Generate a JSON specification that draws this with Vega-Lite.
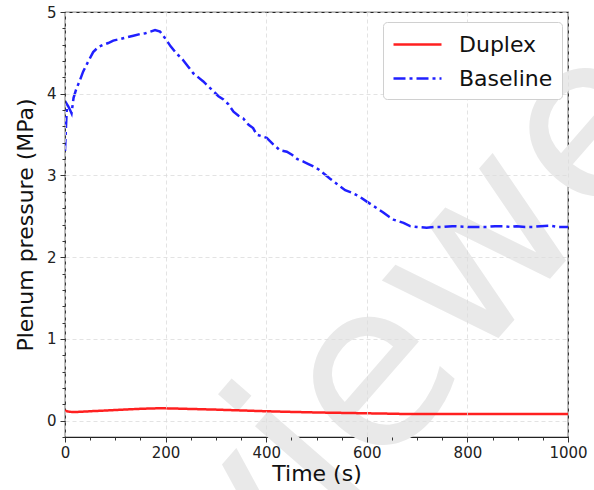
{
  "$schema": "https://vega.github.io/schema/vega-lite/v6.json",
  "width": 503,
  "height": 425,
  "autosize": {"type": "none"},
  "padding": {"left": 65, "top": 12, "right": 26, "bottom": 53},
  "config": {
    "font": "DejaVu Sans",
    "view": {"stroke": "#222222", "strokeWidth": 1.2},
    "axis": {
      "domain": false,
      "labelFont": "DejaVu Sans",
      "titleFont": "DejaVu Sans",
      "labelFontSize": 15,
      "titleFontSize": 22,
      "titleFontWeight": "normal",
      "labelColor": "#222222",
      "titleColor": "#111111",
      "tickColor": "#333333",
      "gridColor": "#dcdcdc",
      "gridDash": [4, 3],
      "gridWidth": 0.8,
      "labelOverlap": false,
      "labelFlush": false
    }
  },
  "datasets": {
    "series": [
      {"series": "Duplex", "t": 0, "v": 0.12},
      {"series": "Duplex", "t": 8, "v": 0.11},
      {"series": "Duplex", "t": 15, "v": 0.105},
      {"series": "Duplex", "t": 30, "v": 0.108},
      {"series": "Duplex", "t": 50, "v": 0.115},
      {"series": "Duplex", "t": 100, "v": 0.13},
      {"series": "Duplex", "t": 150, "v": 0.145},
      {"series": "Duplex", "t": 190, "v": 0.152},
      {"series": "Duplex", "t": 220, "v": 0.148},
      {"series": "Duplex", "t": 250, "v": 0.143},
      {"series": "Duplex", "t": 300, "v": 0.135},
      {"series": "Duplex", "t": 350, "v": 0.125},
      {"series": "Duplex", "t": 400, "v": 0.115},
      {"series": "Duplex", "t": 450, "v": 0.107},
      {"series": "Duplex", "t": 500, "v": 0.1},
      {"series": "Duplex", "t": 550, "v": 0.095},
      {"series": "Duplex", "t": 600, "v": 0.09},
      {"series": "Duplex", "t": 650, "v": 0.085},
      {"series": "Duplex", "t": 680, "v": 0.081},
      {"series": "Duplex", "t": 750, "v": 0.08},
      {"series": "Duplex", "t": 850, "v": 0.08},
      {"series": "Duplex", "t": 1000, "v": 0.08},
      {"series": "Baseline", "t": 0, "v": 3.3},
      {"series": "Baseline", "t": 2, "v": 3.6},
      {"series": "Baseline", "t": 4, "v": 3.87},
      {"series": "Baseline", "t": 7, "v": 3.84},
      {"series": "Baseline", "t": 10, "v": 3.8},
      {"series": "Baseline", "t": 13, "v": 3.76},
      {"series": "Baseline", "t": 17, "v": 3.95},
      {"series": "Baseline", "t": 22, "v": 4.05},
      {"series": "Baseline", "t": 30, "v": 4.17},
      {"series": "Baseline", "t": 36, "v": 4.27},
      {"series": "Baseline", "t": 45, "v": 4.38},
      {"series": "Baseline", "t": 56, "v": 4.51},
      {"series": "Baseline", "t": 66, "v": 4.57},
      {"series": "Baseline", "t": 76, "v": 4.6},
      {"series": "Baseline", "t": 86, "v": 4.62},
      {"series": "Baseline", "t": 96, "v": 4.65},
      {"series": "Baseline", "t": 110, "v": 4.67},
      {"series": "Baseline", "t": 123, "v": 4.69},
      {"series": "Baseline", "t": 136, "v": 4.71},
      {"series": "Baseline", "t": 149, "v": 4.73},
      {"series": "Baseline", "t": 160, "v": 4.74},
      {"series": "Baseline", "t": 170, "v": 4.76},
      {"series": "Baseline", "t": 179, "v": 4.78},
      {"series": "Baseline", "t": 189, "v": 4.76},
      {"series": "Baseline", "t": 199, "v": 4.68},
      {"series": "Baseline", "t": 210, "v": 4.58},
      {"series": "Baseline", "t": 222, "v": 4.49},
      {"series": "Baseline", "t": 229, "v": 4.45},
      {"series": "Baseline", "t": 235, "v": 4.41},
      {"series": "Baseline", "t": 245, "v": 4.33},
      {"series": "Baseline", "t": 255, "v": 4.25},
      {"series": "Baseline", "t": 265, "v": 4.2},
      {"series": "Baseline", "t": 275, "v": 4.15},
      {"series": "Baseline", "t": 285, "v": 4.09},
      {"series": "Baseline", "t": 295, "v": 4.03},
      {"series": "Baseline", "t": 305, "v": 3.97},
      {"series": "Baseline", "t": 315, "v": 3.93},
      {"series": "Baseline", "t": 325, "v": 3.87},
      {"series": "Baseline", "t": 335, "v": 3.78},
      {"series": "Baseline", "t": 345, "v": 3.73},
      {"series": "Baseline", "t": 354, "v": 3.7},
      {"series": "Baseline", "t": 365, "v": 3.62},
      {"series": "Baseline", "t": 374, "v": 3.58},
      {"series": "Baseline", "t": 381, "v": 3.5},
      {"series": "Baseline", "t": 391, "v": 3.48},
      {"series": "Baseline", "t": 401, "v": 3.46},
      {"series": "Baseline", "t": 414, "v": 3.38},
      {"series": "Baseline", "t": 427, "v": 3.31},
      {"series": "Baseline", "t": 441, "v": 3.29},
      {"series": "Baseline", "t": 452, "v": 3.25},
      {"series": "Baseline", "t": 462, "v": 3.2},
      {"series": "Baseline", "t": 474, "v": 3.17},
      {"series": "Baseline", "t": 484, "v": 3.14},
      {"series": "Baseline", "t": 494, "v": 3.11},
      {"series": "Baseline", "t": 505, "v": 3.07},
      {"series": "Baseline", "t": 515, "v": 3.02},
      {"series": "Baseline", "t": 527, "v": 2.96},
      {"series": "Baseline", "t": 540, "v": 2.9},
      {"series": "Baseline", "t": 557, "v": 2.82},
      {"series": "Baseline", "t": 570, "v": 2.79},
      {"series": "Baseline", "t": 586, "v": 2.74},
      {"series": "Baseline", "t": 600, "v": 2.68},
      {"series": "Baseline", "t": 610, "v": 2.64},
      {"series": "Baseline", "t": 620, "v": 2.6},
      {"series": "Baseline", "t": 632, "v": 2.55},
      {"series": "Baseline", "t": 643, "v": 2.5},
      {"series": "Baseline", "t": 653, "v": 2.46},
      {"series": "Baseline", "t": 663, "v": 2.44},
      {"series": "Baseline", "t": 673, "v": 2.42},
      {"series": "Baseline", "t": 686, "v": 2.38},
      {"series": "Baseline", "t": 700, "v": 2.37},
      {"series": "Baseline", "t": 719, "v": 2.36},
      {"series": "Baseline", "t": 735, "v": 2.37},
      {"series": "Baseline", "t": 752, "v": 2.37},
      {"series": "Baseline", "t": 770, "v": 2.38},
      {"series": "Baseline", "t": 785, "v": 2.375},
      {"series": "Baseline", "t": 800, "v": 2.37},
      {"series": "Baseline", "t": 820, "v": 2.37},
      {"series": "Baseline", "t": 838, "v": 2.37},
      {"series": "Baseline", "t": 855, "v": 2.38},
      {"series": "Baseline", "t": 870, "v": 2.38},
      {"series": "Baseline", "t": 885, "v": 2.37},
      {"series": "Baseline", "t": 898, "v": 2.38},
      {"series": "Baseline", "t": 915, "v": 2.37},
      {"series": "Baseline", "t": 930, "v": 2.37},
      {"series": "Baseline", "t": 945, "v": 2.38},
      {"series": "Baseline", "t": 964, "v": 2.385},
      {"series": "Baseline", "t": 980, "v": 2.37},
      {"series": "Baseline", "t": 1000, "v": 2.37}
    ],
    "watermark": [{"label": "Reviewer", "t": 567, "v": 0.21}]
  },
  "layer": [
    {
      "data": {"name": "watermark"},
      "mark": {"type": "text", "font": "DejaVu Sans", "fontSize": 230, "angle": -49, "color": "#e9e9e9", "align": "center", "baseline": "middle"},
      "encoding": {
        "text": {"field": "label"},
        "x": {
          "field": "t", "type": "quantitative",
          "scale": {"domain": [0, 1000], "nice": false, "zero": false},
          "axis": {"orient": "bottom", "values": [0, 50, 100, 150, 200, 250, 300, 350, 400, 450, 500, 550, 600, 650, 700, 750, 800, 850, 900, 950, 1000], "labels": false, "grid": false, "tickSize": 3, "title": null, "zindex": 1}
        },
        "y": {
          "field": "v", "type": "quantitative",
          "scale": {"domain": [-0.2, 5], "nice": false, "zero": false},
          "axis": {"orient": "left", "values": [-0.2, 0, 0.2, 0.4, 0.6, 0.8, 1, 1.2, 1.4, 1.6, 1.8, 2, 2.2, 2.4, 2.6, 2.8, 3, 3.2, 3.4, 3.6, 3.8, 4, 4.2, 4.4, 4.6, 4.8, 5], "labels": false, "grid": false, "tickSize": 3, "title": null, "zindex": 1}
        }
      }
    },
    {
      "data": {"name": "series"},
      "mark": {"type": "line", "strokeWidth": 2.5, "clip": true},
      "encoding": {
        "x": {
          "field": "t", "type": "quantitative",
          "scale": {"domain": [0, 1000], "nice": false, "zero": false},
          "axis": {"orient": "bottom", "values": [0, 200, 400, 600, 800, 1000], "format": "d", "tickSize": 5, "grid": true, "title": "Time (s)", "labelPadding": 3, "titlePadding": 3, "zindex": 1}
        },
        "y": {
          "field": "v", "type": "quantitative",
          "scale": {"domain": [-0.2, 5], "nice": false, "zero": false},
          "axis": {"orient": "left", "values": [0, 1, 2, 3, 4, 5], "format": "d", "tickSize": 5, "grid": true, "title": "Plenum pressure (MPa)", "labelPadding": 4, "titlePadding": 9, "zindex": 1}
        },
        "color": {
          "field": "series", "type": "nominal",
          "scale": {"domain": ["Duplex", "Baseline"], "range": ["#ff2020", "#2020ff"]},
          "legend": {"title": null, "orient": "none", "legendX": 318, "legendY": 10, "symbolType": "M-1,0H3", "symbolSize": 576, "symbolStrokeWidth": 2.5, "labelFontSize": 22, "labelFont": "DejaVu Sans", "labelColor": "#111111", "labelOffset": 40, "rowPadding": 9, "padding": 9, "strokeColor": "#d0d0d0", "cornerRadius": 4, "fillColor": "white", "zindex": 2}
        },
        "strokeDash": {
          "field": "series", "type": "nominal",
          "scale": {"domain": ["Duplex", "Baseline"], "range": [[1, 0], [12, 4, 3, 4]]},
          "legend": {"title": null, "orient": "none", "legendX": 318, "legendY": 10, "symbolType": "M-1,0H3", "symbolSize": 576, "symbolStrokeWidth": 2.5, "labelFontSize": 22, "labelFont": "DejaVu Sans", "labelColor": "#111111", "labelOffset": 40, "rowPadding": 9, "padding": 9, "strokeColor": "#d0d0d0", "cornerRadius": 4, "fillColor": "white", "zindex": 2}
        }
      }
    }
  ],
  "resolve": {"axis": {"x": "independent", "y": "independent"}}
}
